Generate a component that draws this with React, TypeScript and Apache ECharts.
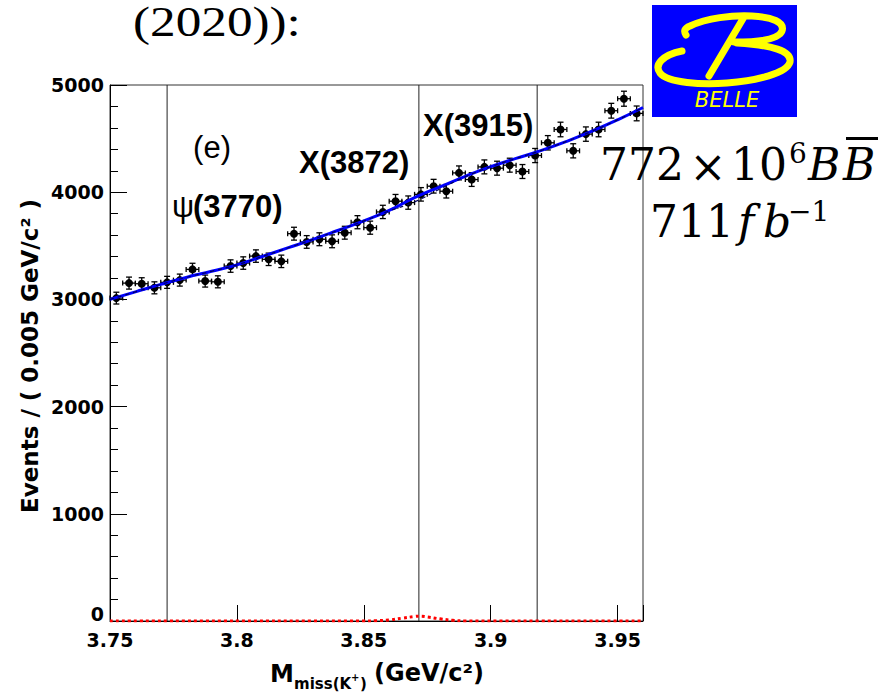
import React, { useEffect, useRef } from "react";
import * as echarts from "echarts";

// ---- data ----
const binCenters = [
  3.7525, 3.7575, 3.7625, 3.7675, 3.7725, 3.7775, 3.7825, 3.7875, 3.7925, 3.7975,
  3.8025, 3.8075, 3.8125, 3.8175, 3.8225, 3.8275, 3.8325, 3.8375, 3.8425, 3.8475,
  3.8525, 3.8575, 3.8625, 3.8675, 3.8725, 3.8775, 3.8825, 3.8875, 3.8925, 3.8975,
  3.9025, 3.9075, 3.9125, 3.9175, 3.9225, 3.9275, 3.9325, 3.9375, 3.9425, 3.9475,
  3.9525, 3.9575,
];
const events = [
  3012, 3152, 3146, 3108, 3159, 3180, 3280, 3171, 3164, 3311,
  3339, 3404, 3374, 3355, 3613, 3536, 3561, 3542, 3622, 3720,
  3669, 3816, 3916, 3903, 3980, 4056, 4009, 4180, 4118, 4236,
  4224, 4252, 4193, 4342, 4461, 4585, 4386, 4542, 4585, 4760,
  4872, 4735,
];
const errors = [
  55, 56, 56, 56, 56, 56, 57, 56, 56, 58,
  58, 58, 58, 58, 60, 59, 60, 60, 60, 61,
  61, 62, 63, 62, 63, 64, 63, 65, 64, 65,
  65, 65, 65, 66, 67, 68, 66, 67, 68, 69,
  70, 69,
];
const fitMass = [
  3.75, 3.76, 3.77, 3.78, 3.79, 3.8, 3.81, 3.82, 3.83, 3.84, 3.85,
  3.86, 3.87, 3.88, 3.89, 3.9, 3.91, 3.92, 3.93, 3.94, 3.95, 3.96,
];
const fitTotal = [
  3000, 3070, 3140, 3205, 3262, 3322, 3400, 3480, 3560, 3645, 3732,
  3830, 3950, 4050, 4148, 4238, 4315, 4390, 4475, 4570, 4675, 4790,
];
const fitBackground = [
  3000, 3070, 3140, 3205, 3262, 3322, 3400, 3480, 3560, 3645, 3732,
  3825, 3910, 4030, 4144, 4238, 4315, 4390, 4475, 4570, 4675, 4790,
];
const signalMass = [3.75, 3.85, 3.855, 3.86, 3.865, 3.87, 3.8717, 3.875, 3.88, 3.885, 3.89, 3.96];
const signalValues = [0, 0, 3, 10, 26, 42, 45, 38, 20, 7, 1, 0];
const resonanceMass = [3.7725, 3.8717, 3.9183];
const resonanceLabels = ["ψ", "(3770)", "X(3872)", "X(3915)"];
const yRange = [0, 5000];

const logoPath =
  "M 34 30 Q 30 24 38 21 C 55 13 80 10 100 11 C 120 12 133 17 130 26 C 127 34 108 37 82 37 " +
  "M 92 12 L 57 71 " +
  "M 30 46 C 10 50 2 60 8 68 C 16 78 50 80 75 78 C 105 76 135 68 138 57 C 140 46 120 40 85 38";
echarts.graphic.registerShape("belleLogo", echarts.graphic.extendPath(logoPath, {}));

const SANS = "'DejaVu Sans', sans-serif";
const ARIAL = "'Liberation Sans', Arial, sans-serif";
const SERIF = "'DejaVu Serif', serif";

function txt(x: number, y: number, text: string, extra: any = {}, el: any = {}) {
  return {
    type: "text",
    x,
    y,
    z: 100,
    ...el,
    style: {
      text,
      fill: "#000",
      align: "left",
      verticalAlign: "middle",
      ...extra,
    },
  };
}

export default function App() {
  const ref = useRef<HTMLDivElement>(null);
  useEffect(() => {
    if (!ref.current) return;
    const chart = echarts.init(ref.current, null, { renderer: "svg" });
    const labelFont = { fontFamily: SANS, fontWeight: "bold", fontSize: 19, color: "#000" };
    const option: any = {
      animation: false,
      backgroundColor: "#fff",
      grid: {
        left: 110,
        right: 236,
        top: 85,
        bottom: 72,
        show: true,
        borderColor: "#333",
        borderWidth: 1,
        backgroundColor: "transparent",
      },
      xAxis: {
        type: "value",
        min: 3.75,
        max: 3.96,
        interval: 0.05,
        axisLine: { show: true, lineStyle: { color: "#000", width: 1 } },
        axisTick: { show: true, inside: true, length: 16, lineStyle: { color: "#000", width: 1 } },
        splitLine: { show: false },
        axisLabel: {
          margin: 9,
          ...labelFont,
          formatter: (v: number) => (v > 3.955 ? "" : String(+v.toFixed(2))),
        },
      },
      yAxis: {
        type: "value",
        min: yRange[0],
        max: yRange[1],
        interval: 1000,
        axisLine: { show: true, lineStyle: { color: "#000", width: 1 } },
        axisTick: { show: true, inside: true, length: 17, lineStyle: { color: "#000", width: 1 } },
        minorTick: { show: true, splitNumber: 5, length: 8, lineStyle: { color: "#000", width: 1 } },
        splitLine: { show: false },
        axisLabel: {
          margin: 6,
          ...labelFont,
          formatter: (v: number) => (v === 0 ? "{z|0}" : String(v)),
          rich: { z: { ...labelFont, padding: [0, 0, 14, 0] } },
        },
      },
      series: [
        ...resonanceMass.map((m) => ({
          type: "line",
          name: "res" + m,
          z: 2,
          symbol: "none",
          showSymbol: false,
          silent: true,
          data: [
            [m, yRange[0]],
            [m, yRange[1]],
          ],
          lineStyle: { color: "#222", width: 1 },
        })),
        {
          type: "custom",
          name: "data",
          z: 3,
          data: binCenters.map((x, i) => [x, events[i], errors[i]]),
          encode: { x: 0, y: 1 },
          renderItem: (params: any, api: any) => {
            const x = api.value(0);
            const y = api.value(1);
            const e = api.value(2);
            const c = api.coord([x, y]);
            const l = api.coord([x - 0.0025, y]);
            const r = api.coord([x + 0.0025, y]);
            const t = api.coord([x, y + e]);
            const b = api.coord([x, y - e]);
            const st = { stroke: "#000", lineWidth: 1.3 };
            return {
              type: "group",
              children: [
                { type: "line", shape: { x1: l[0], y1: c[1], x2: r[0], y2: c[1] }, style: st },
                { type: "line", shape: { x1: l[0], y1: c[1] - 2.5, x2: l[0], y2: c[1] + 2.5 }, style: st },
                { type: "line", shape: { x1: r[0], y1: c[1] - 2.5, x2: r[0], y2: c[1] + 2.5 }, style: st },
                { type: "line", shape: { x1: c[0], y1: t[1], x2: c[0], y2: b[1] }, style: st },
                { type: "line", shape: { x1: c[0] - 3, y1: t[1], x2: c[0] + 3, y2: t[1] }, style: st },
                { type: "line", shape: { x1: c[0] - 3, y1: b[1], x2: c[0] + 3, y2: b[1] }, style: st },
                { type: "circle", shape: { cx: c[0], cy: c[1], r: 4 }, style: { fill: "#000" } },
              ],
            };
          },
        },
        {
          type: "line",
          name: "total",
          z: 4,
          smooth: true,
          showSymbol: false,
          symbol: "none",
          data: fitMass.map((x, i) => [x, fitTotal[i]]),
          lineStyle: { color: "#0000ff", width: 3 },
        },
        {
          type: "line",
          name: "background",
          z: 5,
          smooth: true,
          showSymbol: false,
          symbol: "none",
          data: fitMass.map((x, i) => [x, fitBackground[i]]),
          lineStyle: { color: "#000060", width: 1.2, type: [4, 4] },
        },
        {
          type: "line",
          name: "signal",
          z: 6,
          smooth: true,
          showSymbol: false,
          symbol: "none",
          data: signalMass.map((x, i) => [x, signalValues[i]]),
          lineStyle: { color: "#ff0000", width: 3, type: [3, 3] },
        },
      ],
      graphic: [
        // top-left slide fragment
        txt(133, 22, "(2020)):", { fontFamily: "'Liberation Serif', serif", fontSize: 42 }, { scaleX: 1.22 }),
        // Belle logo
        { type: "rect", z: 90, shape: { x: 652, y: 5, width: 145, height: 112 }, style: { fill: "#0000ff" } },
        {
          type: "belleLogo",
          z: 91,
          x: 652,
          y: 5,
          style: { stroke: "#ffff00", fill: "none", lineWidth: 7, lineCap: "round", lineJoin: "round" },
        },
        txt(727, 100, "BELLE", {
          fill: "#ffff00",
          fontFamily: SANS,
          fontStyle: "italic",
          fontWeight: 200,
          fontSize: 21,
          align: "center",
        }, { z: 92 }),
        // luminosity text
        txt(600, 164, "772", { fontFamily: SERIF, fontSize: 44 }),
        txt(708, 166, "×", { fontFamily: SERIF, fontSize: 44, align: "center" }),
        txt(731, 164, "10", { fontFamily: SERIF, fontSize: 44 }),
        txt(789, 153, "6", { fontFamily: SERIF, fontSize: 28 }),
        txt(808, 164, "B", { fontFamily: SERIF, fontSize: 44, fontStyle: "italic" }),
        txt(843, 164, "B", { fontFamily: SERIF, fontSize: 44, fontStyle: "italic" }),
        { type: "rect", z: 100, shape: { x: 846, y: 137, width: 32, height: 3 }, style: { fill: "#000" } },
        txt(650, 221, "711", { fontFamily: SERIF, fontSize: 44 }),
        txt(738, 221, "f", { fontFamily: SERIF, fontSize: 44, fontStyle: "italic" }),
        txt(763, 221, "b", { fontFamily: SERIF, fontSize: 44, fontStyle: "italic" }),
        txt(788, 211, "−1", { fontFamily: SERIF, fontSize: 28 }),
        // annotations
        txt(212, 147, "(e)", { fontFamily: ARIAL, fontSize: 31, align: "center" }),
        txt(172, 206, resonanceLabels[0], { fontFamily: ARIAL, fontSize: 31 }),
        txt(193, 206, resonanceLabels[1], { fontFamily: ARIAL, fontSize: 31, fontWeight: "bold" }),
        txt(299, 162, resonanceLabels[2], { fontFamily: ARIAL, fontSize: 31, fontWeight: "bold" }),
        txt(423, 125, resonanceLabels[3], { fontFamily: ARIAL, fontSize: 31, fontWeight: "bold" }),
        // axis titles
        txt(30, 356, "Events / ( 0.005 GeV/c² )", {
          fontFamily: SANS,
          fontWeight: "bold",
          fontSize: 23,
          align: "center",
        }, { rotation: Math.PI / 2 }),
        txt(270, 674, "M", { fontFamily: SANS, fontWeight: "bold", fontSize: 24 }),
        txt(294, 684, "miss(K", { fontFamily: SANS, fontWeight: "bold", fontSize: 15 }),
        txt(351, 677, "+", { fontFamily: SANS, fontWeight: "bold", fontSize: 10 }),
        txt(360, 684, ")", { fontFamily: SANS, fontWeight: "bold", fontSize: 15 }),
        txt(374, 673, "(GeV/c²)", { fontFamily: SANS, fontWeight: "bold", fontSize: 24 }),
      ],
    };
    chart.setOption(option);
    return () => chart.dispose();
  }, []);
  return (
    <div
      ref={ref}
      style={{ position: "fixed", left: 0, top: 0, width: 879, height: 693, background: "#fff" }}
    />
  );
}
